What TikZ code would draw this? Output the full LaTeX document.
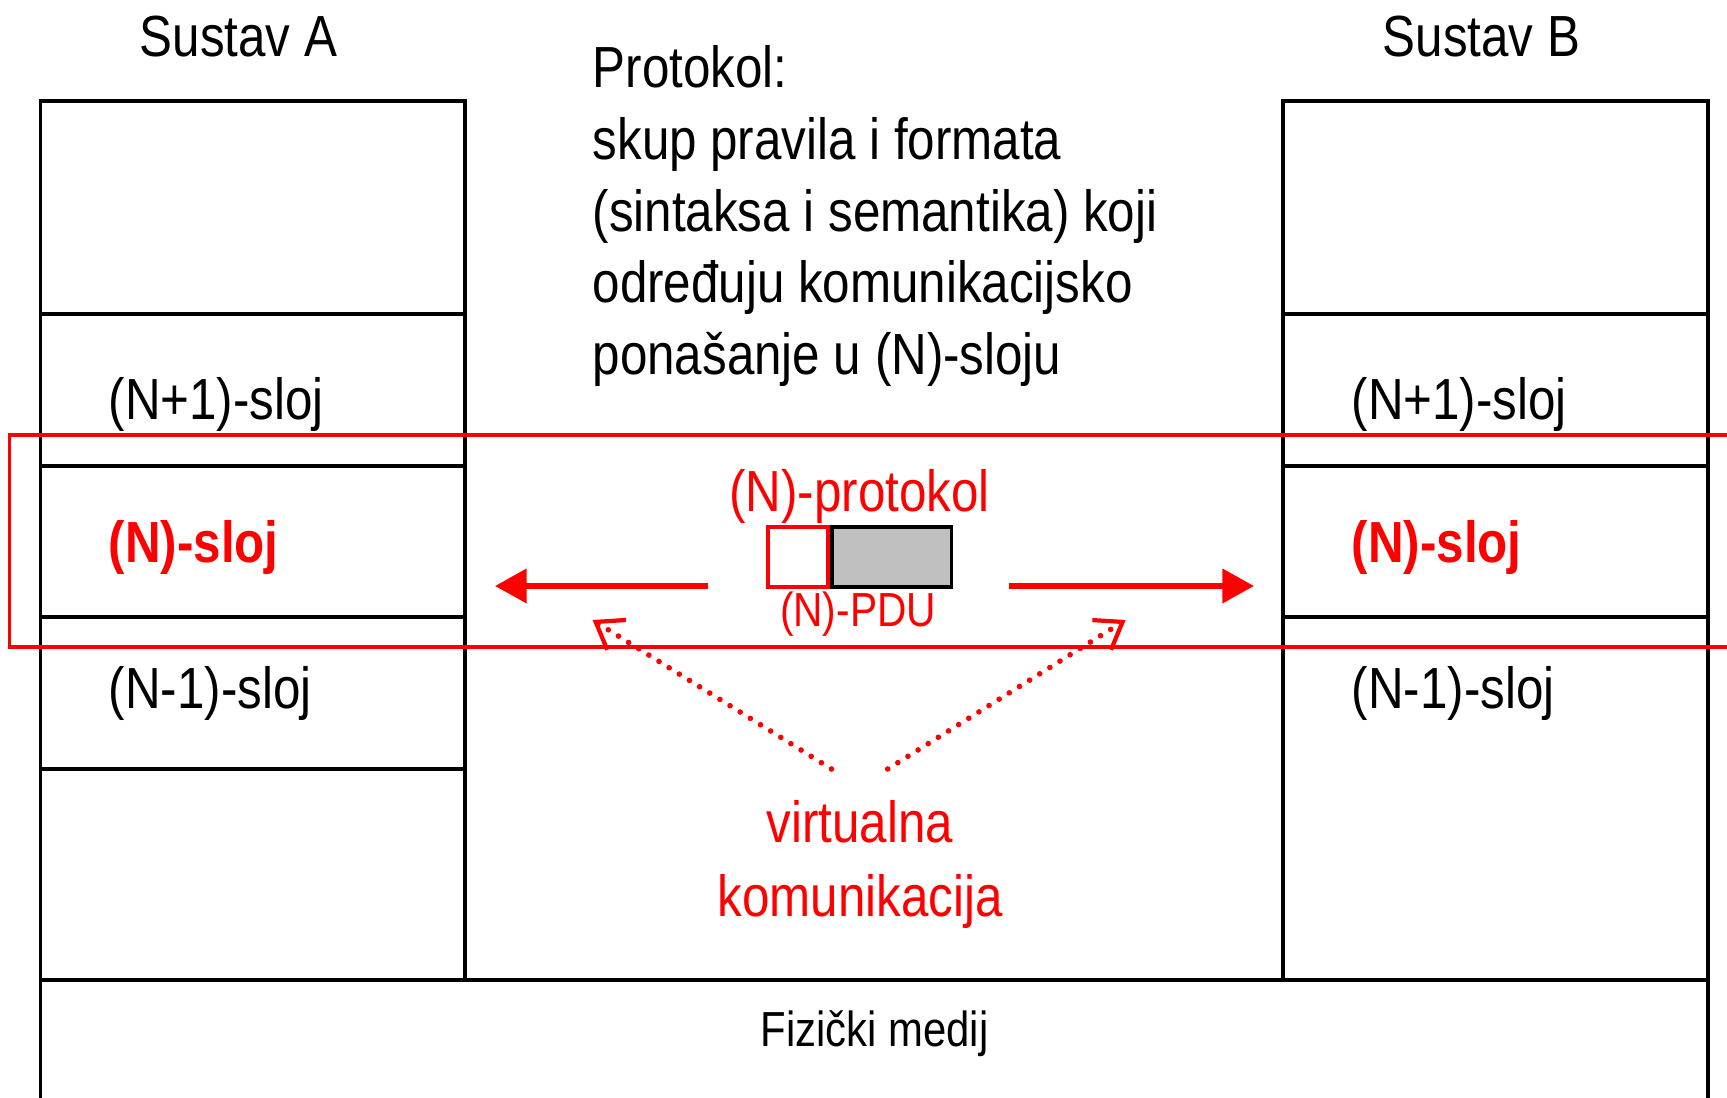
\documentclass[tikz,border=0pt]{standalone}
\usepackage{fontspec}
\setmainfont[FakeStretch=0.85]{Liberation Sans}
\usepackage{xcolor}
\usetikzlibrary{arrows.meta}
\definecolor{pdugray}{HTML}{C0C0C0}

\begin{document}
\begin{tikzpicture}[x=0.01cm,y=-0.01cm,
  lbl/.style={inner sep=0pt,font=\fontsize{16.5}{20}\selectfont},
  redlbl/.style={lbl,text=red},
  nlbl/.style={inner sep=0pt,text=red,font=\fontsize{16.5}{20}\selectfont\bfseries},
  layer/.style={draw,line width=1.1pt},
  pdubox/.style={draw,line width=1.1pt,minimum height=17.1pt,inner sep=0pt},
  bigarrow/.style={red,line width=1.7pt,-{Triangle[length=9pt,width=9.5pt]}},
  vcomm/.style={red,line width=1.6pt,line cap=round,dash pattern=on 0pt off 3.4pt,
    -{Straight Barb[length=7pt,width=10pt,line width=1.2pt]}}]

\useasboundingbox (0,0) rectangle (1727,1098);
\clip (0,0) rectangle (1727,1098);

% --- Sustav A: layer stack ---
\node[lbl,anchor=base] (sysA) at (238.5,57) {Sustav A};
\draw[layer] (40.5,101) rectangle (465,980);
\foreach \y in {314,466,617,769} {
  \draw[layer] (40.5,\y) -- (465,\y);
}
\node[lbl,anchor=base west] (aUp) at (108,420) {(N+1)-sloj};
\node[nlbl,anchor=base west] (aN) at (108,563) {(N)-sloj};
\node[lbl,anchor=base west] (aDown) at (108,709) {(N-1)-sloj};

% --- Sustav B: layer stack ---
\node[lbl,anchor=base] (sysB) at (1481.5,57) {Sustav B};
\draw[layer] (1283,101) rectangle (1708,980);
\foreach \y in {314,466,617} {
  \draw[layer] (1283,\y) -- (1708,\y);
}
\node[lbl,anchor=base west] (bUp) at (1351,420) {(N+1)-sloj};
\node[nlbl,anchor=base west] (bN) at (1351,563) {(N)-sloj};
\node[lbl,anchor=base west] (bDown) at (1351,709) {(N-1)-sloj};

% Physical medium
\draw[layer] (40.5,980) rectangle (1708,1120);
\node[lbl,anchor=base,font=\fontsize{14}{17}\selectfont] (medij) at (874.5,1047) {Fizički medij};

% --- Protocol definition ---
\foreach \txt [count=\i] in {Protokol:, skup pravila i formata, {(sintaksa i semantika) koji},
    određuju komunikacijsko, {ponašanje u (N)-sloju}} {
  \node[lbl,anchor=base west] (prot\i) at (592,16.4+71.6*\i) {\txt};
}

% (N)-layer frame
\draw[red,line width=1pt] (9.5,435) rectangle (1760,647);

% --- (N)-PDU and protocol arrows ---
\node[redlbl,anchor=base] (nprot) at (859.5,512) {(N)-protokol};
\node[pdubox,draw=red,fill=white,minimum width=17.1pt] (pduHdr) at (798,557) {};
\node[pdubox,fill=pdugray,minimum width=34pt,anchor=west] (pduData) at (pduHdr.east) {};
\node[redlbl,anchor=base,font=\fontsize{13.6}{16}\selectfont] (npdu) at (858,627) {(N)-PDU};

\coordinate (lTail) at (708,586);
\coordinate (lTip) at (495,586);
\coordinate (rTail) at (1009,586);
\coordinate (rTip) at (1254,586);
\draw[bigarrow] (lTail) -- (lTip);
\draw[bigarrow] (rTail) -- (rTip);

% Virtual communication
\node[redlbl,anchor=base] (virt) at (860,843) {virtualna};
\node[redlbl,anchor=base] (komun) at (860,917) {komunikacija};
\coordinate (vlStart) at (831.5,769);
\coordinate (vlTip) at (592.6,620);
\coordinate (vrStart) at (887.7,769);
\coordinate (vrTip) at (1125.6,620);
\draw[vcomm] (vlStart) -- (vlTip);
\draw[vcomm] (vrStart) -- (vrTip);

\end{tikzpicture}
\end{document}
